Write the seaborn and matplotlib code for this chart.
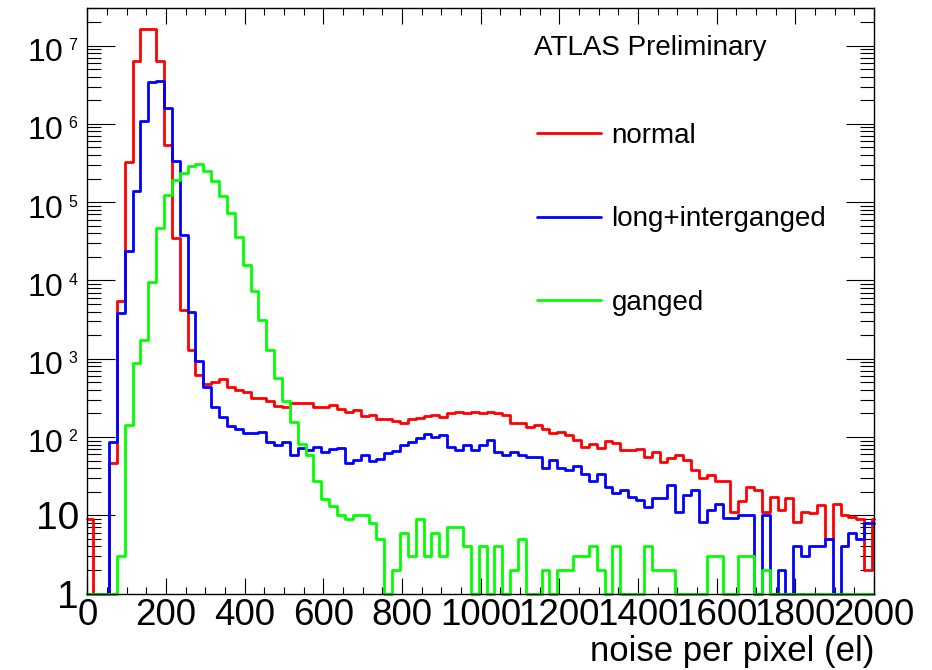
import numpy as np
import pandas as pd
import matplotlib
matplotlib.use("Agg")
import matplotlib.pyplot as plt
import matplotlib._mathtext as _mt
import matplotlib.transforms as mtransforms
import seaborn as sns
from matplotlib.ticker import MultipleLocator, LogLocator, NullFormatter
from matplotlib.lines import Line2D

# ---------------- data ----------------
# bin edges: first/last bins clipped to the 0-2000 axis range, 20 el bins
bin_edges = [0.0] + list(np.arange(15, 2000, 20).astype(float)) + [2000.0]

normal = [9, 1, 1, 46, 5400, 3.3e5, 6.4e6, 1.64e7, 1.64e7, 6.4e6,
          5.4e5, 3.5e4, 4200, 1300, 620, 480, 510, 550, 440, 400,
          375, 313, 313, 292, 252, 240, 271, 271, 268, 240,
          240, 257, 227, 211, 222, 186, 190, 169, 169, 158,
          150, 169, 174, 185, 192, 182, 201, 211, 201, 211,
          201, 211, 201, 192, 150, 153, 136, 143, 126, 112,
          117, 106, 92, 75, 82, 72, 90, 83, 68, 68,
          70, 55, 65, 48, 54, 59, 51, 38, 30, 33,
          27, 27, 11, 15, 23, 21, 11, 17, 11.7, 16.5,
          8.3, 11, 10.6, 13.5, 5, 14, 10, 9.6, 9, 2,
          9]

long_interganged = [1, 1, 1, 87, 3830, 2.35e4, 1.37e5, 1.08e6, 3.4e6, 3.5e6,
                    1.6e6, 3.4e5, 3.8e4, 4000, 940, 433, 245, 182, 140, 126,
                    112, 112, 117, 87, 79, 87, 59, 72, 68, 74,
                    65, 70, 72, 46, 51, 59, 50, 52, 62, 67,
                    79, 87, 97, 110, 101, 106, 74, 68, 79, 68,
                    79, 92, 65, 59, 65, 59, 55, 55, 40, 51,
                    40, 38, 42, 34, 27, 34, 23, 19, 21, 17,
                    15.7, 12.7, 16.5, 16.5, 24, 11, 18, 21, 8.3, 11.7,
                    14, 9.2, 9.2, 10, 10, 1, 10, 1, 2, 1,
                    4, 3, 4, 4, 5, 1, 4, 6, 5, 8,
                    8]

ganged = [1, 1, 1, 1, 3, 143, 880, 1750, 9500, 4.7e4,
          1.25e5, 1.94e5, 2.36e5, 2.87e5, 3.1e5, 2.48e5, 1.85e5, 1.19e5, 7.3e4, 3.6e4,
          1.58e4, 7400, 3140, 1300, 565, 290, 157, 82, 59, 27,
          16, 13, 10, 9, 10, 10, 8, 5, 1, 2,
          6, 3, 9, 3, 6, 3, 7, 7, 4, 1,
          4, 1, 4, 1, 2, 5, 1, 1, 2, 1,
          2, 2, 3, 3, 4, 2, 1, 4, 1, 1,
          1, 4, 2, 2, 2, 1, 1, 1, 1, 3,
          3, 1, 1, 3, 3, 1, 2, 1, 1, 1,
          1, 1, 1, 1, 1, 1, 1, 1, 1, 1,
          1]

series_names = ["normal", "long+interganged", "ganged"]
series_values = [normal, long_interganged, ganged]
series_colors = ["#ff0000", "#0000ff", "#00ff00"]

y_tick_values = [1, 10, 1e2, 1e3, 1e4, 1e5, 1e6, 1e7]
y_tick_labels = ["1", "10",
                 r"$10^{\;\,2}\,$", r"$10^{\;\,3}\,$", r"$10^{\;\,4}\,$",
                 r"$10^{\;\,5}\,$", r"$10^{\;\,6}\,$", r"$10^{\;\,7}\,$"]

# ---------------- style ----------------
sns.set_theme(style="ticks")
plt.rcParams["font.family"] = ["Liberation Sans", "DejaVu Sans"]
plt.rcParams["mathtext.fontset"] = "custom"
plt.rcParams["mathtext.rm"] = "Liberation Sans"
plt.rcParams["mathtext.it"] = "Liberation Sans"
plt.rcParams["mathtext.default"] = "regular"
_mt.SHRINK_FACTOR = 0.5  # smaller exponents, as in the ROOT-style labels

W, H = 932, 670
fig = plt.figure(figsize=(W / 100, H / 100), dpi=100)
ax = fig.add_axes([87.3 / W, 1 - 593.5 / H, (874 - 87.3) / W, (593.5 - 8.3) / H])

edges_arr = np.array(bin_edges)
centers = (edges_arr[:-1] + edges_arr[1:]) / 2
for name, vals, col in zip(series_names, series_values, series_colors):
    df = pd.DataFrame({"noise": centers, "count": vals})
    sns.histplot(data=df, x="noise", weights="count", bins=bin_edges,
                 element="step", fill=False, color=col, linewidth=2.0,
                 ax=ax, clip_on=False)

ax.set_yscale("log")
ax.set_xlim(0, 2000)
ax.set_ylim(1, 3.0e7)

ax.xaxis.set_major_locator(MultipleLocator(200))
ax.xaxis.set_minor_locator(MultipleLocator(50))
ax.yaxis.set_minor_locator(LogLocator(base=10, subs=np.arange(2, 10), numticks=20))
ax.yaxis.set_minor_formatter(NullFormatter())

ax.tick_params(which="both", direction="in", top=True, right=True,
               color="black", width=0.8, labelcolor="black")
ax.tick_params(axis="x", which="major", length=11.5, labelsize=26.5, pad=3)
ax.tick_params(axis="x", which="minor", length=5)
ax.tick_params(axis="y", which="major", length=20, pad=6)
ax.tick_params(axis="y", which="minor", length=10)

ax.set_yticks(y_tick_values)
ylabels = ax.set_yticklabels(y_tick_labels)
shift_down = mtransforms.ScaledTranslation(0, -5 / 100, fig.dpi_scale_trans)
for val, t in zip(y_tick_values, ylabels):
    t.set_color("black")
    if val < 100:
        t.set_fontsize(28)
    else:
        t.set_fontsize(23)
        t.set_transform(t.get_transform() + shift_down)

for sp in ax.spines.values():
    sp.set_color("black")
    sp.set_linewidth(1.0)

ax.set_ylabel("")
ax.set_xlabel("noise per pixel (el)", loc="right", fontsize=25, labelpad=1.5,
              color="black")

fig.text(534 / W, 1 - 48 / H, "ATLAS Preliminary", fontsize=20,
         ha="left", va="center", color="black")

handles = [Line2D([], [], color=c, linewidth=2.0) for c in series_colors]
leg = ax.legend(handles, series_names, loc="upper left",
                bbox_to_anchor=(537 / W, 1 - 123 / H), bbox_transform=fig.transFigure,
                frameon=False, fontsize=20, handlelength=2.3, handletextpad=0.38,
                labelspacing=2.07, borderpad=0, borderaxespad=0)
for t in leg.get_texts():
    t.set_color("black")

fig.savefig("out.png", dpi=100, facecolor="white")
